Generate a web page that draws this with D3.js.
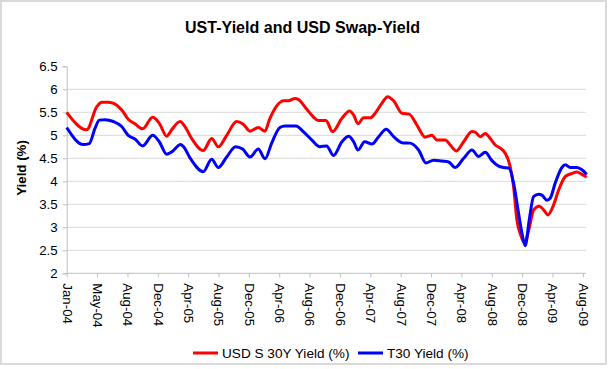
<!DOCTYPE html>
<html><head><meta charset="utf-8">
<script src="https://cdn.jsdelivr.net/npm/d3@7"></script>
<style>html,body{margin:0;padding:0;background:#fff;}svg{display:block;font-family:Arial,"Liberation Sans",sans-serif;}</style>
</head><body><svg id="c" width="609" height="369"></svg>
<script>
// x positions in months since Jan-2004
const swapMonths = [0,2.6,3.89,4.58,5.36,6.01,7.14,7.99,8.86,9.86,11.16,12.02,12.98,13.63,14.71,15.35,16.22,17.73,18.82,19.68,20.77,22.06,22.92,23.79,24.87,25.74,26.29,27.26,28.2,28.76,29.63,30.06,31.15,32.01,32.65,33.65,34.52,35.73,36.73,37.25,37.81,38.55,39.4,40.05,40.92,41.66,42.44,43.52,44.47,45.46,46.54,47.41,48.06,49.14,49.79,50.57,51.53,52.61,53.03,53.68,54.33,54.98,55.63,56.28,56.92,57.57,58.01,58.44,59.0,59.4,60.04,60.61,61.34,61.91,62.47,63.21,63.86,64.71,65.58,66.23,66.88,67.5];
const swapYield = [5.5,5.12,5.62,5.72,5.72,5.7,5.55,5.35,5.25,5.14,5.39,5.26,4.98,5.12,5.3,5.19,4.93,4.67,4.93,4.75,5.0,5.3,5.24,5.09,5.17,5.09,5.33,5.64,5.75,5.75,5.8,5.78,5.57,5.4,5.32,5.32,5.08,5.37,5.53,5.44,5.25,5.38,5.38,5.48,5.7,5.84,5.75,5.48,5.46,5.22,4.96,5.0,4.9,4.9,4.79,4.66,4.86,5.08,5.07,4.97,5.04,4.93,4.79,4.72,4.61,4.32,3.88,3.16,2.8,2.66,2.98,3.38,3.46,3.38,3.27,3.49,3.81,4.1,4.17,4.2,4.15,4.09];
const t30Months = [0,2.15,2.93,3.67,4.23,4.97,6.05,7.14,7.99,8.86,9.86,11.16,12.02,12.98,13.63,14.8,15.22,16.0,17.73,18.82,19.68,20.77,21.93,22.84,23.79,24.87,25.74,26.61,27.68,28.33,29.76,30.71,31.8,32.87,33.74,34.63,35.73,36.6,37.25,37.81,38.68,39.62,40.49,41.48,42.44,43.52,44.59,45.68,46.63,47.63,48.71,49.58,50.43,51.53,52.61,53.47,54.33,55.2,56.07,56.72,57.44,58.01,58.66,59.18,59.52,60.04,60.61,61.26,61.69,62.34,62.76,63.41,64.28,64.71,65.36,66.23,66.88,67.5];
const t30Yield = [5.17,4.8,4.82,5.15,5.33,5.34,5.3,5.19,5.0,4.92,4.77,5.0,4.86,4.59,4.64,4.8,4.74,4.51,4.21,4.48,4.3,4.53,4.75,4.7,4.53,4.7,4.49,4.83,5.17,5.2,5.2,5.08,4.9,4.75,4.77,4.56,4.86,4.98,4.86,4.68,4.86,4.81,4.97,5.13,4.97,4.84,4.83,4.68,4.4,4.46,4.44,4.42,4.3,4.5,4.68,4.54,4.63,4.45,4.33,4.3,4.28,3.96,3.3,2.8,2.6,3.16,3.67,3.72,3.7,3.59,3.63,3.96,4.3,4.36,4.3,4.3,4.25,4.15];
const xLabels = ["Jan-04","May-04","Aug-04","Dec-04","Apr-05","Aug-05","Dec-05","Apr-06","Aug-06","Dec-06","Apr-07","Aug-07","Dec-07","Apr-08","Aug-08","Dec-08","Apr-09","Aug-09"];
const yTicks = [2,2.5,3,3.5,4,4.5,5,5.5,6,6.5];
const seriesNames = ["USD S 30Y Yield (%)","T30 Yield (%)"];
const seriesColors = ["#ff0000","#0000ff"];
const title = "UST-Yield and USD Swap-Yield";
const yTitle = "Yield (%)";

const svg = d3.select("#c");
svg.append("rect").attr("x",1).attr("y",1).attr("width",605).attr("height",363)
  .attr("fill","#fff").attr("stroke","#d9d9d9").attr("stroke-width",2);

const x = d3.scaleLinear().domain([0,67.5]).range([66.7,586.7]);
const y = d3.scaleLinear().domain([2,6.5]).range([273.3,66.3]);
const plotRight = 586;

// gridlines
svg.append("g").selectAll("line").data(yTicks.filter(v=>v>2 && v<6.5)).join("line")
  .attr("x1",x(0)).attr("x2",plotRight).attr("y1",d=>y(d)).attr("y2",d=>y(d))
  .attr("stroke","#d9d9d9").attr("stroke-width",1);

// y axis
const yAxis = svg.append("g").attr("transform",`translate(${x(0)},0)`)
  .call(d3.axisLeft(y).tickValues(yTicks).tickSize(4).tickPadding(5).tickFormat(d3.format("~g")));
yAxis.select(".domain").attr("stroke","#bfbfbf");
yAxis.selectAll(".tick line").attr("stroke","#bfbfbf");
yAxis.selectAll("text").attr("font-size","13.3px").attr("fill","#000").attr("font-family","Arial, 'Liberation Sans', sans-serif");

// x axis
const tickPos = xLabels.map((d,i)=>i*67/17);
const xAxis = svg.append("g").attr("transform",`translate(0,${y(2)})`)
  .call(d3.axisBottom(x).tickValues(tickPos).tickSize(4).tickFormat((d,i)=>xLabels[i]));
xAxis.select(".domain").attr("d",`M${x(0)},0H${plotRight}`).attr("stroke","#bfbfbf");
xAxis.selectAll(".tick line").attr("stroke","#bfbfbf");
xAxis.selectAll("text")
  .attr("font-size","13.3px").attr("fill","#000").attr("font-family","Arial, 'Liberation Sans', sans-serif")
  .attr("text-anchor","start").attr("transform","translate(0,10) rotate(90)")
  .attr("x",0).attr("y",0).attr("dy","0.35em");

// lines
const line = d3.line().x(d=>x(d[0])).y(d=>y(d[1])).curve(d3.curveMonotoneX);
const swapData = swapMonths.map((m,i)=>[m,swapYield[i]]);
const t30Data = t30Months.map((m,i)=>[m,t30Yield[i]]);
svg.append("path").attr("d",line(swapData)).attr("fill","none").attr("stroke",seriesColors[0]).attr("stroke-width",3).attr("stroke-linejoin","round");
svg.append("path").attr("d",line(t30Data)).attr("fill","none").attr("stroke",seriesColors[1]).attr("stroke-width",3).attr("stroke-linejoin","round");

// title
svg.append("text").attr("x",302.5).attr("y",33).attr("text-anchor","middle")
  .attr("font-size","17px").attr("font-weight","bold")
  .attr("textLength",235).attr("lengthAdjust","spacingAndGlyphs").text(title);
// y title
svg.append("text").attr("transform","translate(26,168) rotate(-90)").attr("text-anchor","middle")
  .attr("font-size","13.3px").attr("font-weight","bold").text(yTitle);

// legend
const leg = svg.append("g");
const legX = [193,358];
seriesNames.forEach((n,i)=>{
  leg.append("line").attr("x1",legX[i]).attr("x2",legX[i]+25).attr("y1",353).attr("y2",353)
    .attr("stroke",seriesColors[i]).attr("stroke-width",3);
  leg.append("text").attr("x",legX[i]+29).attr("y",353).attr("dy","0.36em")
    .attr("font-size","13.6px").text(n);
});
</script></body></html>
